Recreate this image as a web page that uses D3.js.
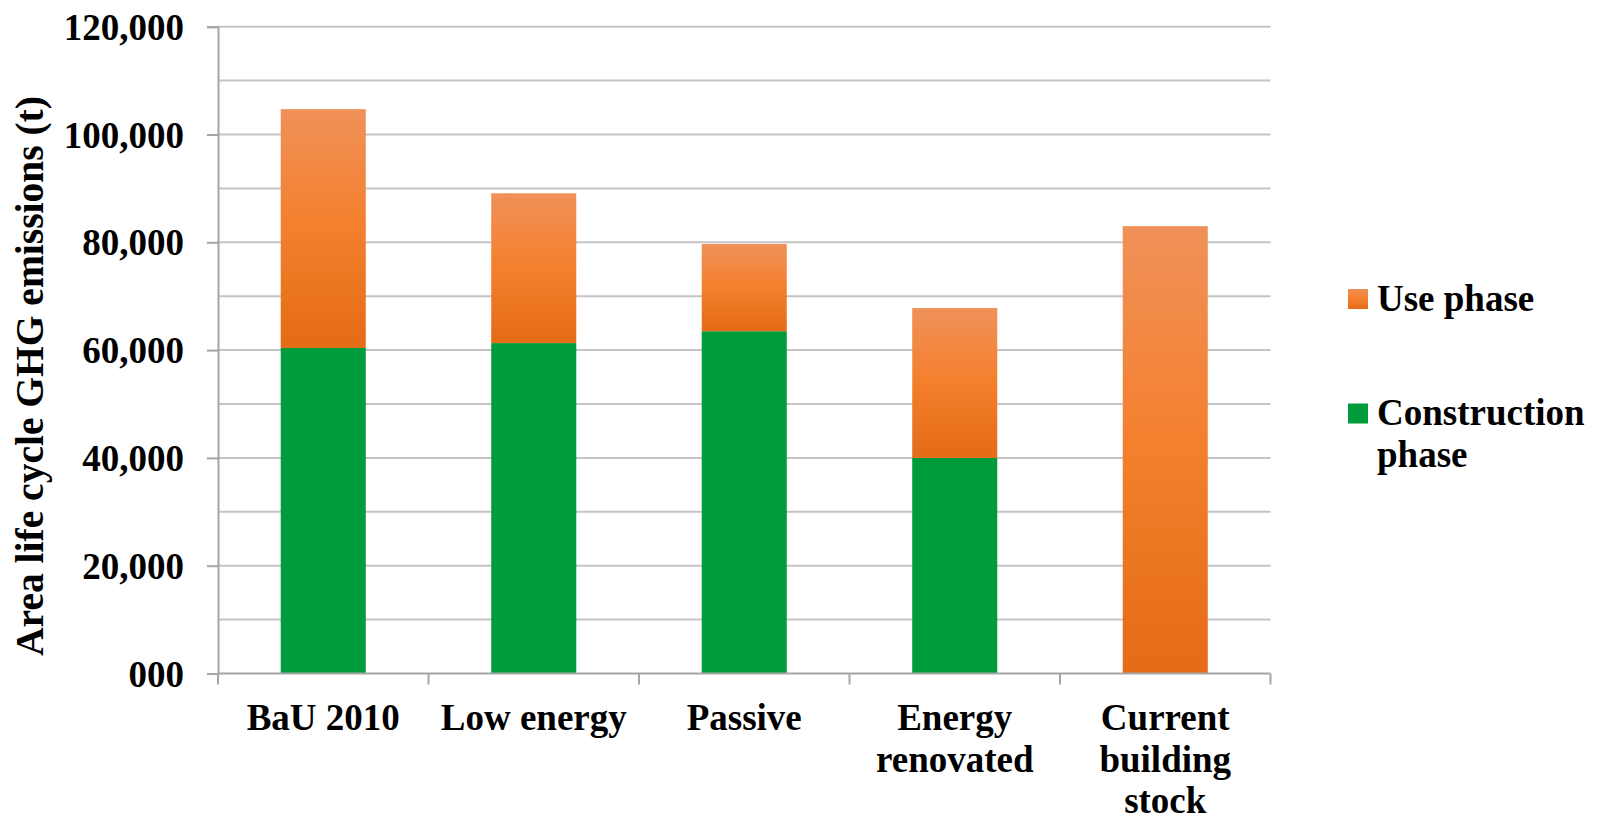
<!DOCTYPE html>
<html>
<head>
<meta charset="utf-8">
<script src="https://cdn.jsdelivr.net/npm/d3@7"></script>
<style>
  html, body { margin: 0; padding: 0; background: #fff; }
  svg text { font-family: "Liberation Serif", "Times New Roman", Times, serif; font-weight: bold; fill: #000; }
</style>
</head>
<body>
<svg id="chart" width="1601" height="820"></svg>
<script>
// Area life cycle GHG emissions (t) per building scenario
const categories = ["BaU 2010", "Low energy", "Passive", "Energy renovated", "Current building stock"];
const categoryLines = [["BaU 2010"], ["Low energy"], ["Passive"], ["Energy", "renovated"], ["Current", "building", "stock"]];
const construction = [60400, 61300, 63500, 40000, 0];
const usePhase = [44300, 27800, 16200, 27800, 83000];   // stacked on top of construction
const yTicks = [0, 20000, 40000, 60000, 80000, 100000, 120000];
const yTickLabels = ["000", "20,000", "40,000", "60,000", "80,000", "100,000", "120,000"];
const gridValues = [10000, 20000, 30000, 40000, 50000, 60000, 70000, 80000, 90000, 100000, 110000, 120000];
const seriesNames = ["Use phase", "Construction phase"];

const svg = d3.select("#chart");
const plotLeft = 218, plotRight = 1270.5, plotTop = 26.7, plotBottom = 673.5;

const x = d3.scaleBand().domain(categories).range([plotLeft, plotRight])
  .paddingInner(0.596).paddingOuter(0.298);
const y = d3.scaleLinear().domain([0, 120000]).range([plotBottom, plotTop]);

// gradient for the use-phase segments
const defs = svg.append("defs");
const grad = defs.append("linearGradient").attr("id", "useGrad")
  .attr("x1", 0).attr("y1", 0).attr("x2", 0).attr("y2", 1);
grad.append("stop").attr("offset", "0%").attr("stop-color", "#F09159");
grad.append("stop").attr("offset", "50%").attr("stop-color", "#F47F2C");
grad.append("stop").attr("offset", "100%").attr("stop-color", "#E46B17");

// horizontal gridlines
svg.append("g").selectAll("line").data(gridValues).join("line")
  .attr("x1", plotLeft).attr("x2", plotRight)
  .attr("y1", d => y(d)).attr("y2", d => y(d))
  .attr("stroke", "#C4C4C4").attr("stroke-width", 2);

// stacked bars
const rows = categories.map((c, i) => ({ cat: c, construction: construction[i], use: usePhase[i] }));
const stack = d3.stack().keys(["construction", "use"])(rows);
const fills = { construction: "#009B3A", use: "url(#useGrad)" };
svg.append("g").selectAll("g").data(stack).join("g")
  .attr("fill", s => fills[s.key])
  .selectAll("rect").data(s => s.filter(d => d[1] - d[0] > 0)).join("rect")
  .attr("x", d => x(d.data.cat))
  .attr("width", x.bandwidth())
  .attr("y", d => y(d[1]))
  .attr("height", d => y(d[0]) - y(d[1]));

// y axis
const yAxis = d3.axisLeft(y).tickValues(yTicks)
  .tickFormat((d, i) => yTickLabels[i]).tickSize(11).tickPadding(23);
const yg = svg.append("g").attr("transform", `translate(${plotLeft},0)`).call(yAxis);
yg.select(".domain").attr("stroke", "#A6A6A6").attr("stroke-width", 2);
yg.selectAll(".tick line").attr("stroke", "#A6A6A6").attr("stroke-width", 2);
yg.selectAll(".tick text").attr("font-size", 37).attr("dy", "0.34em")
  .style("font-family", "'Liberation Serif', 'Times New Roman', serif").style("font-weight", "bold");

// x axis with boundary ticks between categories
svg.append("line").attr("x1", plotLeft).attr("x2", plotRight).attr("y1", plotBottom).attr("y2", plotBottom)
  .attr("stroke", "#A6A6A6").attr("stroke-width", 2);
const step = x.step();
const bounds = d3.range(categories.length + 1).map(i => plotLeft + i * step);
svg.append("g").selectAll("line").data(bounds).join("line")
  .attr("x1", d => d).attr("x2", d => d).attr("y1", plotBottom).attr("y2", plotBottom + 11)
  .attr("stroke", "#A6A6A6").attr("stroke-width", 2);

// category labels
const xl = svg.append("g").selectAll("text").data(categories).join("text")
  .attr("text-anchor", "middle").attr("font-size", 37)
  .attr("x", d => x(d) + x.bandwidth() / 2).attr("y", 730);
xl.selectAll("tspan").data((d, i) => categoryLines[i]).join("tspan")
  .attr("x", function () { return this.parentNode.getAttribute("x"); })
  .attr("dy", (d, i) => i === 0 ? 0 : 41.7)
  .text(d => d);

// y axis title
svg.append("text").attr("transform", "translate(43,376) rotate(-90)")
  .attr("text-anchor", "middle").attr("font-size", 39.5)
  .text("Area life cycle GHG emissions (t)");

// legend
const legend = svg.append("g");
const legendItems = [
  { name: seriesNames[0], fill: "url(#useGrad)", y: 289, lines: ["Use phase"] },
  { name: seriesNames[1], fill: "#009B3A", y: 403.5, lines: ["Construction", "phase"] }
];
const li = legend.selectAll("g").data(legendItems).join("g");
li.append("rect").attr("x", 1348).attr("y", d => d.y).attr("width", 20).attr("height", 20)
  .attr("fill", d => d.fill);
li.append("text").attr("x", 1377).attr("y", d => d.y + 21.5).attr("font-size", 37)
  .selectAll("tspan").data(d => d.lines).join("tspan")
  .attr("x", 1377).attr("dy", (d, i) => i === 0 ? 0 : 41.5).text(d => d);
</script>
</body>
</html>
